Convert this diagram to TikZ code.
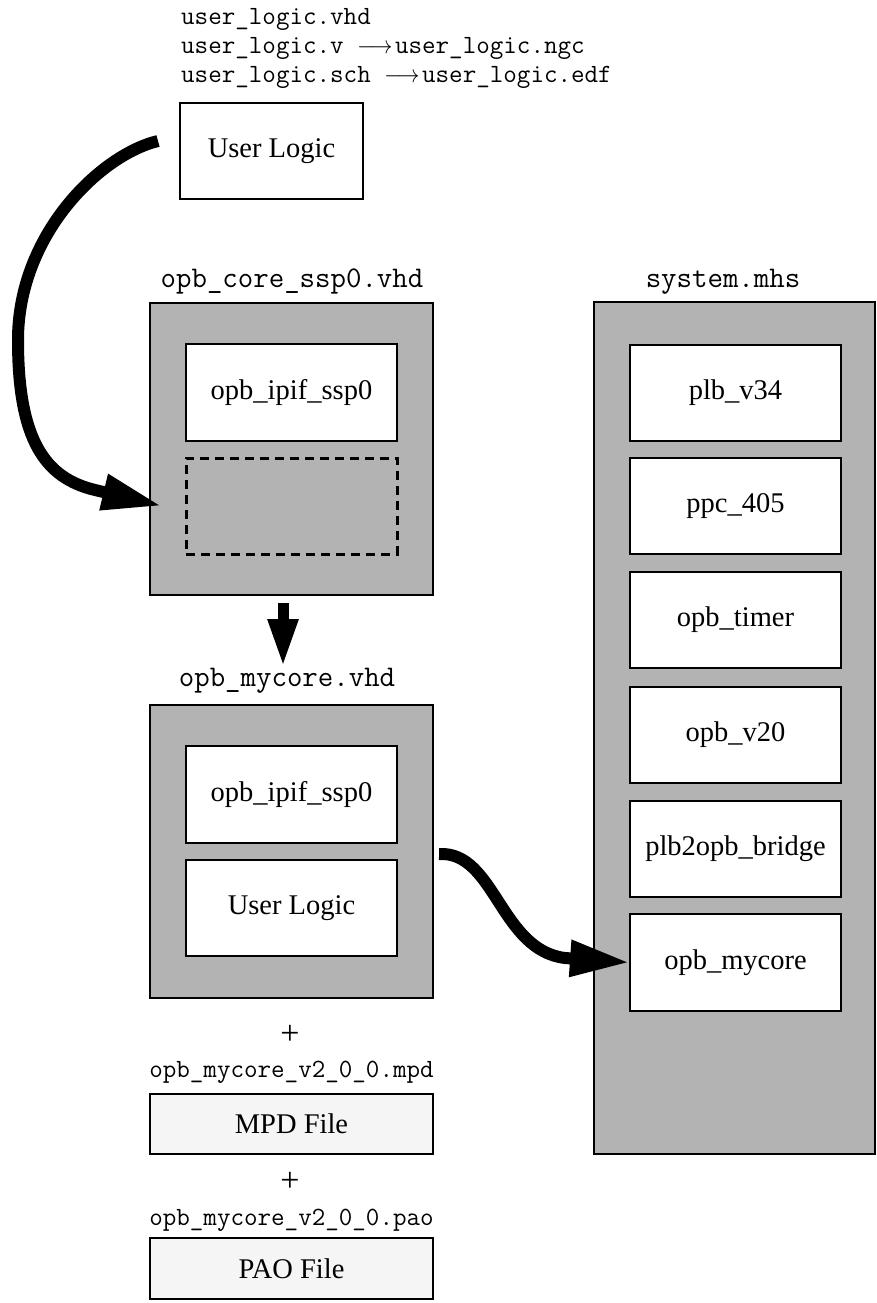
\documentclass[tikz,border=0pt]{standalone}
\usepackage{fontspec}
\setmainfont{Liberation Serif}
\usetikzlibrary{arrows.meta}
\definecolor{boxgray}{RGB}{179,179,179}
\definecolor{filegray}{RGB}{245,245,245}
\newcommand{\filearrow}{\scalebox{0.88}[1]{$\longrightarrow$}}
\begin{document}
\begin{tikzpicture}[x=1pt,y=-1pt,
  outerbox/.style={draw,line width=2.8pt,fill=boxgray,inner sep=0pt,outer sep=0pt},
  innerbox/.style={draw,line width=2.8pt,fill=white,inner sep=0pt,outer sep=0pt,
    minimum width=211pt,minimum height=96pt,font=\fontsize{28.5}{34}\selectfont},
  filebox/.style={draw,line width=2.8pt,fill=filegray,inner sep=0pt,outer sep=0pt,
    minimum width=283pt,font=\fontsize{28.5}{34}\selectfont},
  dashbox/.style={draw,line width=3pt,dash pattern=on 9pt off 6pt,inner sep=0pt,outer sep=0pt,
    minimum width=211pt,minimum height=96pt},
  monosmall/.style={font=\fontsize{26.3}{31}\ttfamily,inner sep=0pt},
  monobig/.style={font=\fontsize{30}{36}\ttfamily,inner sep=0pt},
  plus/.style={font=\fontsize{34}{40}\selectfont,inner sep=0pt},
  bigarrow/.style={line width=12pt,-{Triangle[length=60pt,width=34pt]}},
  downarrow/.style={line width=11pt,-{Triangle[length=48pt,width=28pt]}}
]
\useasboundingbox (0,0) rectangle (877,1303);

% top file names
\node[monosmall,anchor=base west] (f1) at (181,25) {user\_logic.vhd};
\node[monosmall,anchor=base west] (f2) at (181,54) {user\_logic.v \filearrow\hspace{2.5pt}user\_logic.ngc};
\node[monosmall,anchor=base west] (f3) at (181,83) {user\_logic.sch \filearrow\hspace{2.5pt}user\_logic.edf};

% top user logic
\node[innerbox,minimum width=183pt] (ul) at (271.5,151) {User Logic};

% opb_core_ssp0
\node[monobig,anchor=base] (corelab) at (292,287) {opb\_core\_ssp0.vhd};
\node[outerbox,minimum width=283pt,minimum height=292pt] (core) at (291.5,449) {};
\node[innerbox,minimum height=97pt] (ipif1) at (291.5,392.5) {opb\_ipif\_ssp0};
\node[dashbox] (slot) at (291.5,506) {};

% opb_mycore
\node[monobig,anchor=base] (mylab) at (287,686) {opb\_mycore.vhd};
\node[outerbox,minimum width=283pt,minimum height=293pt] (my) at (291.5,851.5) {};
\node[innerbox,minimum height=97pt] (ipif2) at (291.5,794.5) {opb\_ipif\_ssp0};
\node[innerbox] (ul2) at (291.5,908) {User Logic};

% mpd / pao
\node[plus] (p1) at (290,1035) {+};
\node[monosmall,anchor=base] (mpdlab) at (291.5,1077) {opb\_mycore\_v2\_0\_0.mpd};
\node[filebox,minimum height=60pt] (mpd) at (291.5,1124) {MPD File};
\node[plus] (p2) at (290,1182) {+};
\node[monosmall,anchor=base] (paolab) at (291.5,1225) {opb\_mycore\_v2\_0\_0.pao};
\node[filebox,minimum height=61pt] (pao) at (291.5,1268.5) {PAO File};

% system.mhs
\node[monobig,anchor=base] (syslab) at (723,287) {system.mhs};
\node[outerbox,minimum width=281pt,minimum height=852pt] (sys) at (734.5,728) {};
\node[innerbox] (plb) at (735.5,393) {plb\_v34};
\node[innerbox] (ppc) at (735.5,506) {ppc\_405};
\node[innerbox] (tmr) at (735.5,620) {opb\_timer};
\node[innerbox] (opb) at (735.5,735) {opb\_v20};
\node[innerbox] (brg) at (735.5,849) {plb2opb\_bridge};
\node[innerbox,minimum height=97pt] (myc) at (735.5,962.5) {opb\_mycore};

% arrows
\coordinate (a1s) at (158,141);
\coordinate (a1m) at (18,340);
\coordinate (a1b) at (95,490);
\coordinate (a1e) at (162,506);
\draw[bigarrow] (a1s) .. controls (100,155) and (18,235) .. (a1m)
  .. controls (18,440) and (45,478) .. (a1b) -- (a1e);

\coordinate (d1) at (283,603);
\coordinate (d2) at (283,667);
\draw[downarrow] (d1) -- (d2);

\coordinate (a2s) at (439,854);
\coordinate (a2b) at (565,958);
\draw[bigarrow] (a2s) .. controls (495,851) and (500,950) .. (a2b) -- (myc.west);
\end{tikzpicture}
\end{document}
